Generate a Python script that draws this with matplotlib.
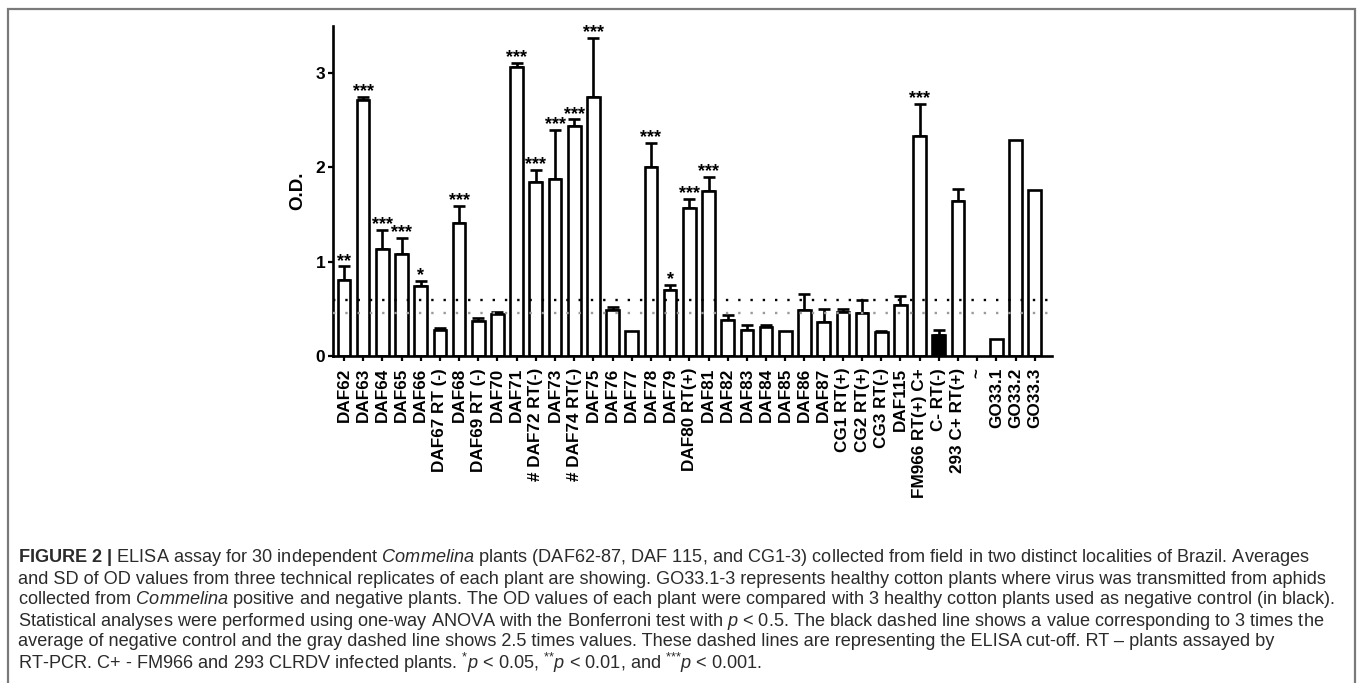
import numpy as np
import matplotlib
matplotlib.use('Agg')
from matplotlib import pyplot as plt
from matplotlib.patches import Rectangle

# plant labels, mean OD and upper SD
labels = ['DAF62', 'DAF63', 'DAF64', 'DAF65', 'DAF66', 'DAF67 RT (-)', 'DAF68', 'DAF69 RT (-)',
          'DAF70', 'DAF71', '# DAF72 RT(-)', 'DAF73', '# DAF74 RT(-)', 'DAF75', 'DAF76', 'DAF77',
          'DAF78', 'DAF79', 'DAF80 RT(+)', 'DAF81', 'DAF82', 'DAF83', 'DAF84', 'DAF85', 'DAF86',
          'DAF87', 'CG1 RT(+)', 'CG2 RT(+)', 'CG3 RT(-)', 'DAF115', 'FM966 RT(+) C+', 'C- RT(-)',
          '293 C+ RT(+)', '~', 'GO33.1', 'GO33.2', 'GO33.3']
od = [0.81, 2.71, 1.14, 1.08, 0.74, 0.28, 1.41, 0.37, 0.45, 3.06, 1.85, 1.88, 2.44, 2.75,
      0.49, 0.26, 2.00, 0.70, 1.57, 1.75, 0.38, 0.28, 0.31, 0.26, 0.49, 0.36, 0.47, 0.46,
      0.25, 0.54, 2.33, 0.22, 1.64, 0.0, 0.18, 2.29, 1.76]
sd = [0.14, 0.04, 0.20, 0.17, 0.06, 0.02, 0.18, 0.03, 0.02, 0.05, 0.12, 0.52, 0.07, 0.62,
      0.03, 0.0, 0.26, 0.05, 0.10, 0.15, 0.06, 0.05, 0.02, 0.0, 0.17, 0.14, 0.03, 0.13,
      0.01, 0.10, 0.34, 0.06, 0.13, 0.0, 0.0, 0.0, 0.0]
stars = ['**', '***', '***', '***', '*', '', '***', '', '', '***', '***', '***', '***', '***',
         '', '', '***', '*', '***', '***', '', '', '', '', '', '', '', '', '', '', '***', '',
         '', '', '', '', '']
neg_control = 'C- RT(-)'
cutoff_3x = 0.595
cutoff_25x = 0.455

caption = [
    r'$\mathbf{FIGURE\ 2\ |}$ ELISA assay for 30 independent $\mathit{Commelina}$ plants (DAF62-87, DAF 115, and CG1-3) collected from field in two distinct localities of Brazil. Averages',
    'and SD of OD values from three technical replicates of each plant are showing. GO33.1-3 represents healthy cotton plants where virus was transmitted from aphids',
    r'collected from $\mathit{Commelina}$ positive and negative plants. The OD values of each plant were compared with 3 healthy cotton plants used as negative control (in black).',
    r'Statistical analyses were performed using one-way ANOVA with the Bonferroni test with $\mathit{p}$ < 0.5. The black dashed line shows a value corresponding to 3 times the',
    'average of negative control and the gray dashed line shows 2.5 times values. These dashed lines are representing the ELISA cut-off. RT \u2013 plants assayed by',
    r'RT-PCR. C+ - FM966 and 293 CLRDV infected plants. ${}^{*}\mathit{p}$ < 0.05, ${}^{{*}{*}}\mathit{p}$ < 0.01, and ${}^{{*}{*}{*}}\mathit{p}$ < 0.001.',
]

plt.rcParams['font.family'] = ['Liberation Sans', 'DejaVu Sans']
plt.rcParams['mathtext.fontset'] = 'custom'
plt.rcParams['mathtext.rm'] = 'Liberation Sans'
plt.rcParams['mathtext.it'] = 'Liberation Sans:italic'
plt.rcParams['mathtext.bf'] = 'Liberation Sans:bold'

W, H = 1358, 683
fig = plt.figure(figsize=(W / 100, H / 100), dpi=100)
ax = fig.add_axes([333 / W, 1 - 356 / H, (1052 - 333) / W, (356 - 26) / H])

x = np.arange(len(labels))
colors = ['black' if lab == neg_control else 'white' for lab in labels]
heights = [v if v > 0 else np.nan for v in od]
ax.bar(x, heights, width=0.66, color=colors, edgecolor='black', linewidth=1.9, zorder=2)

# upper error bars only
has_err = [i for i in x if sd[i] > 0]
ax.errorbar(x[has_err], np.array(od)[has_err], yerr=[np.zeros(len(has_err)), np.array(sd)[has_err]],
            fmt='none', ecolor='black', elinewidth=1.9, capsize=4.5, capthick=1.9, zorder=1)

for i, s in enumerate(stars):
    if s:
        ax.annotate(s, (i, od[i] + sd[i]), xytext=(0, 0.5), textcoords='offset points',
                    ha='center', va='baseline', fontsize=13, fontweight='bold')

# ELISA cut-off lines
ax.axhline(cutoff_3x, color='black', linewidth=1.7, linestyle=(0, (1, 4.2)), zorder=3)
ax.axhline(cutoff_25x, color='#9a9a9a', linewidth=1.7, linestyle=(0, (1, 4.2)), zorder=3)

ax.set_xlim(-0.57, 36.9)
ax.set_ylim(0, 3.5)
ax.set_yticks([0, 1, 2, 3])
ax.set_xticks(x)
ax.set_xticklabels(labels, rotation=90, fontsize=12.3, fontweight='bold')
for lab in ax.get_yticklabels():
    lab.set_fontweight('bold')
    lab.set_fontsize(12.5)
ax.tick_params(direction='out', length=3.5, width=1.6, pad=2)
ax.tick_params(axis='x', pad=5)
ax.set_ylabel('O.D.', fontsize=13.5, fontweight='bold', labelpad=7)
for side in ['top', 'right']:
    ax.spines[side].set_visible(False)
for side in ['left', 'bottom']:
    ax.spines[side].set_linewidth(1.9)

# caption
for k, line in enumerate(caption):
    fig.text(18 / W, 1 - (558 + 21 * k) / H, line, fontsize=13.05, color='#2b2b2b',
             ha='left', va='center')

# frame around the figure
fig.add_artist(Rectangle((8 / W, -0.1), (1355 - 8) / W, 1.1 - 9 / H, transform=fig.transFigure,
                         fill=False, edgecolor='#7a7a7a', linewidth=1.6))

fig.savefig('out.png', dpi=100)
